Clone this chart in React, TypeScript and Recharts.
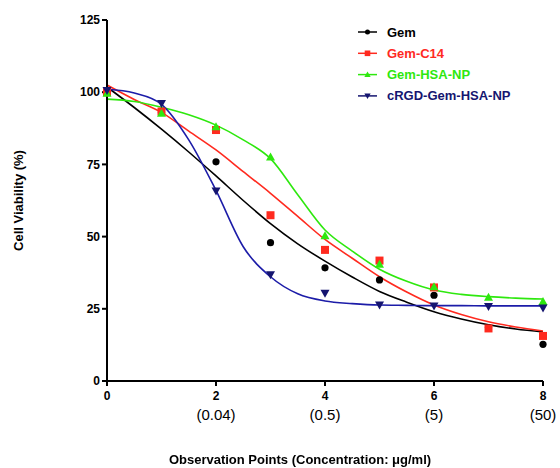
import { ComposedChart, Line, Scatter, XAxis, YAxis } from 'recharts'

// measured points (x = observation point)
const pointX = [0, 1, 2, 3, 4, 5, 6, 7, 8]
const gemPts = [100, 93, 75.9, 47.9, 39.2, 35.0, 29.7, 18.5, 12.7]
const c14Pts = [100, 93.3, 86.9, 57.4, 45.4, 41.7, 32.4, 18.2, 15.6]
const hsaPts = [99.6, 92.7, 88, 77.6, 50.3, 40.4, 32.6, 29.0, 27.5]
const rgdPts = [100.6, 96.1, 65.8, 36.8, 30.4, 26.3, 26.0, 25.8, 25.3]

// fitted curves at half steps
const curveX = [0, 0.5, 1, 1.5, 2, 2.5, 3, 3.5, 4, 4.5, 5, 5.5, 6, 6.5, 7, 7.5, 8]
const gemFit = [101.8, 94.7, 87.2, 79.3, 71, 62.5, 54.5, 47.5, 41.5, 36, 31, 27.3, 24, 21.5, 19.5, 18, 17]
const c14Fit = [102.5, 97.5, 93, 86.5, 80, 72.5, 65, 57, 49, 42.5, 36.1, 30.8, 26.3, 23, 20.5, 18.7, 17.3]
const hsaFit = [97.6, 96.8, 94.8, 92.2, 88.6, 83.5, 77, 64.5, 52.3, 45, 38.7, 34.5, 31.5, 30, 29.2, 28.7, 28.4]
const rgdFit = [101, 99.7, 95.8, 83.5, 66, 46.5, 36.1, 30.2, 27.7, 26.8, 26.3, 26.2, 26.1, 26.1, 26, 26, 26]

const xTicks = [0, 2, 4, 6, 8]
const xSubLabels = ['', '(0.04)', '(0.5)', '(5)', '(50)']
const yTicks = [0, 25, 50, 75, 100, 125]

const seriesNames = ['Gem', 'Gem-C14', 'Gem-HSA-NP', 'cRGD-Gem-HSA-NP']

const BLACK = '#000000'
const RED = '#ff2a1f'
const GREEN = '#2ee80e'
const BLUE = '#1c1ca8'
const NAVY = '#151570'

const toRows = (xs: number[], ys: number[]) => xs.map((x, i) => ({ x, y: ys[i] }))

const Circle = (p: any) => <circle cx={p.cx} cy={p.cy} r={3.6} fill={BLACK} />
const Square = (p: any) => <rect x={p.cx - 4} y={p.cy - 4} width={8} height={8} fill={RED} />
const TriUp = (p: any) => (
  <path d={`M${p.cx},${p.cy - 4.5} L${p.cx + 4.5},${p.cy + 3.5} L${p.cx - 4.5},${p.cy + 3.5} Z`} fill={GREEN} />
)
const TriDown = (p: any) => (
  <path d={`M${p.cx},${p.cy + 4.5} L${p.cx + 4.5},${p.cy - 3.5} L${p.cx - 4.5},${p.cy - 3.5} Z`} fill={NAVY} />
)

const XTick = (props: any) => {
  const { x, y, payload } = props
  const i = xTicks.indexOf(payload.value)
  return (
    <g>
      <text x={x} y={y + 12} textAnchor="middle" fontSize={12} fontWeight="bold" fill="#000">
        {payload.value}
      </text>
      <text x={x} y={y + 32} textAnchor="middle" fontSize={15} fill="#000">
        {xSubLabels[i]}
      </text>
    </g>
  )
}

const legendColors = [BLACK, RED, GREEN, NAVY]
const legendMarks = [Circle, Square, TriUp, TriDown]

const LegendBox = () => (
  <svg width={200} height={90} style={{ position: 'absolute', top: 24, left: 356 }}>
    {seriesNames.map((name, i) => {
      const cy = 8 + i * 21.3
      const Mark = legendMarks[i]
      return (
        <g key={name}>
          <line x1={2} x2={21} y1={cy} y2={cy} stroke={legendColors[i]} strokeWidth={1.5} />
          <g transform={`translate(11.5,${cy}) scale(0.7) translate(-11.5,${-cy})`}>
            <Mark cx={11.5} cy={cy} />
          </g>
          <text x={31} y={cy + 4.5} fontSize={13} fontWeight="bold" fill={legendColors[i]}>
            {name}
          </text>
        </g>
      )
    })}
  </svg>
)

export default function App() {
  return (
    <div style={{ position: 'fixed', left: 0, top: 0, width: 560, height: 468, background: '#fff', fontFamily: 'Liberation Sans, Arial, sans-serif' }}>
      <ComposedChart width={560} height={468} margin={{ top: 20, right: 17, bottom: 57, left: 0 }}>
        <XAxis
          dataKey="x"
          type="number"
          domain={[0, 8]}
          ticks={xTicks}
          tick={<XTick />}
          stroke="#000"
          strokeWidth={2}
          tickSize={5}
          interval={0}
          allowDuplicatedCategory={false}
        />
        <YAxis
          dataKey="y"
          type="number"
          domain={[0, 125]}
          ticks={yTicks}
          width={107}
          stroke="#000"
          strokeWidth={2}
          tickSize={5}
          tick={{ fontSize: 12, fontWeight: 'bold', fill: '#000' }}
          label={{
            value: 'Cell Viability (%)',
            angle: -90,
            position: 'insideLeft',
            offset: 18,
            style: { fontSize: 13, fontWeight: 'bold', fill: '#000', textAnchor: 'middle' },
          }}
        />
        <Line data={toRows(curveX, gemFit)} dataKey="y" type="monotone" stroke={BLACK} strokeWidth={1.6} dot={false} isAnimationActive={false} />
        <Line data={toRows(curveX, c14Fit)} dataKey="y" type="monotone" stroke={RED} strokeWidth={1.6} dot={false} isAnimationActive={false} />
        <Line data={toRows(curveX, hsaFit)} dataKey="y" type="monotone" stroke={GREEN} strokeWidth={1.6} dot={false} isAnimationActive={false} />
        <Line data={toRows(curveX, rgdFit)} dataKey="y" type="monotone" stroke={BLUE} strokeWidth={1.6} dot={false} isAnimationActive={false} />
        <Scatter data={toRows(pointX, gemPts)} dataKey="y" shape={Circle} isAnimationActive={false} />
        <Scatter data={toRows(pointX, c14Pts)} dataKey="y" shape={Square} isAnimationActive={false} />
        <Scatter data={toRows(pointX, hsaPts)} dataKey="y" shape={TriUp} isAnimationActive={false} />
        <Scatter data={toRows(pointX, rgdPts)} dataKey="y" shape={TriDown} isAnimationActive={false} />
      </ComposedChart>
      <LegendBox />
      <div
        style={{
          position: 'absolute',
          top: 452,
          left: 0,
          width: 600,
          textAlign: 'center',
          fontSize: 13,
          fontWeight: 'bold',
          color: '#000',
        }}
      >
        Observation Points (Concentration: μg/ml)
      </div>
    </div>
  )
}
